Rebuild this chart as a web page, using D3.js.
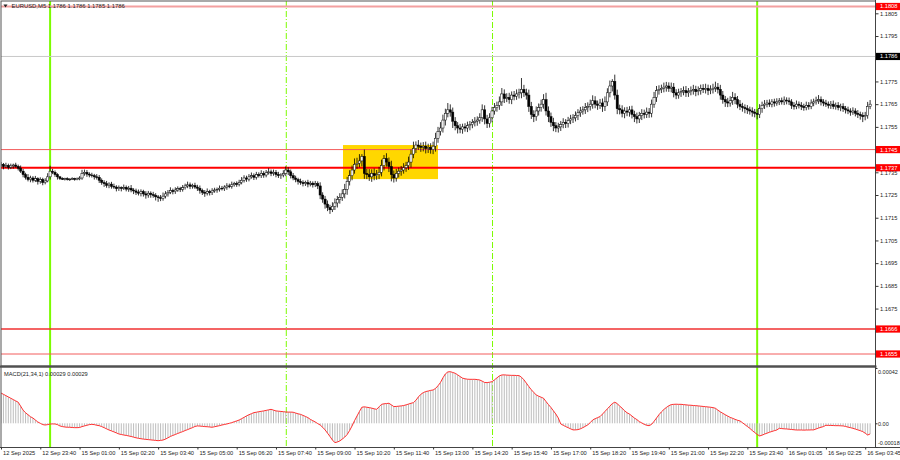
<!DOCTYPE html>
<html><head><meta charset="utf-8">
<script src="https://cdn.jsdelivr.net/npm/d3@7"></script>
<style>body{margin:0;background:#fff}svg{display:block}text{font-family:"Liberation Sans",Arial,sans-serif}</style>
</head><body><svg id="c" width="900" height="460"></svg>
<script>
const chartTitle = "EURUSD,M5  1.1786 1.1786 1.1785 1.1786";
const macdTitle = "MACD(21,34,1) 0.00029 0.00029";
const firstOpen = 1.17380;
const closes = [
1.17385,1.17375,1.17380,1.17372,1.17378,1.17382,1.17376,1.17368,
1.17355,1.17340,1.17328,1.17318,
1.17325,1.17315,1.17322,1.17310,1.17318,1.17305,1.17312,1.17330,
1.17355,
1.17350,1.17340,1.17330,
1.17322,1.17320,1.17322,1.17318,1.17320,1.17322,1.17319,1.17321,1.17325,
1.17345,1.17350,1.17342,1.17338,
1.17335,1.17330,1.17328,1.17315,
1.17305,1.17300,1.17292,1.17298,
1.17288,1.17285,1.17278,1.17282,1.17280,1.17284,1.17276,1.17280,1.17272,1.17268,
1.17262,1.17258,1.17265,1.17255,1.17250,1.17258,1.17252,
1.17248,1.17242,1.17238,1.17235,1.17245,
1.17255,1.17262,1.17270,1.17265,1.17272,1.17278,1.17275,1.17282,1.17290,
1.17295,1.17288,1.17292,1.17285,1.17280,
1.17270,1.17262,1.17258,1.17265,1.17260,1.17268,
1.17272,1.17275,1.17280,1.17278,1.17285,1.17290,1.17288,1.17295,1.17300,1.17298,1.17305,
1.17315,1.17325,1.17320,1.17330,1.17335,1.17328,1.17340,1.17335,1.17345,1.17338,
1.17348,1.17352,1.17345,1.17350,
1.17340,1.17335,1.17338,1.17345,
1.17360,1.17352,
1.17335,1.17325,1.17318,1.17310,
1.17305,1.17300,1.17305,1.17298,1.17302,1.17295,1.17300,1.17290,
1.17250,1.17232,
1.17210,1.17195,1.17185,1.17200,
1.17215,1.17230,1.17240,1.17255,1.17275,
1.17310,1.17335,1.17360,1.17385,
1.17390,1.17400,1.17420,
1.17345,
1.17340,1.17330,1.17345,1.17335,1.17340,1.17350,
1.17380,1.17410,1.17395,
1.17375,1.17340,1.17325,
1.17345,1.17355,1.17360,1.17370,1.17380,1.17395,
1.17430,1.17455,1.17470,1.17465,
1.17460,1.17465,1.17455,1.17460,1.17450,1.17465,
1.17500,1.17530,1.17545,
1.17580,1.17610,1.17625,1.17615,
1.17575,1.17555,
1.17545,1.17540,1.17550,1.17545,
1.17555,1.17560,1.17570,1.17575,1.17580,1.17590,
1.17625,
1.17585,1.17565,
1.17590,1.17620,1.17635,1.17645,1.17660,
1.17695,
1.17675,1.17680,1.17670,
1.17690,1.17685,1.17695,1.17700,
1.17715,
1.17700,1.17690,
1.17640,1.17605,1.17595,
1.17620,1.17635,1.17650,1.17670,
1.17620,1.17595,
1.17570,1.17555,1.17545,1.17550,
1.17560,1.17570,1.17565,1.17578,1.17585,1.17590,1.17600,1.17612,
1.17620,1.17625,1.17635,1.17640,1.17650,1.17665,
1.17650,1.17645,1.17655,
1.17640,1.17660,
1.17700,1.17730,1.17750,
1.17690,
1.17630,
1.17625,1.17610,1.17620,
1.17615,1.17625,1.17605,
1.17595,1.17585,1.17600,
1.17610,1.17605,1.17615,1.17610,
1.17650,1.17680,1.17710,
1.17715,1.17720,1.17725,1.17730,1.17720,1.17725,
1.17700,1.17690,
1.17700,1.17705,1.17710,1.17700,1.17705,1.17710,1.17715,1.17705,1.17710,1.17720,1.17715,1.17720,1.17710,1.17715,1.17720,1.17725,1.17715,
1.17690,1.17670,1.17660,1.17655,
1.17665,1.17680,1.17670,
1.17650,1.17640,1.17635,1.17630,
1.17625,1.17620,1.17615,1.17610,1.17605,
1.17630,1.17645,1.17650,
1.17655,1.17650,1.17660,1.17655,1.17660,1.17665,1.17660,1.17668,1.17665,1.17660,
1.17645,1.17640,1.17650,1.17645,1.17640,1.17635,1.17645,1.17640,
1.17655,1.17660,1.17665,1.17670,1.17660,1.17655,
1.17650,1.17645,1.17650,1.17640,1.17645,1.17635,1.17640,1.17630,
1.17625,1.17620,1.17615,1.17620,1.17610,1.17605,1.17600,1.17595,
1.17600,1.17640,1.17650
];
// upper / lower wick lengths, in units of WICK_UNIT (2 pips)
const WICK_UNIT = 0.0002;
const wickUp = [
0.5,0.3,0.6,0.4,0.5,0.3,0.5,0.4,0.6,0.5,0.4,0.7,0.5,0.4,0.6,0.3,0.5,0.4,0.6,0.8,
1.2,0.5,0.4,0.3,0.2,0.3,0.2,0.3,0.2,0.3,0.2,0.3,0.4,0.8,0.6,0.5,0.4,0.5,0.4,0.6,
0.5,0.4,0.5,0.6,0.4,0.5,0.6,0.4,0.5,0.3,0.6,0.4,0.5,0.7,0.4,0.5,0.6,0.5,0.4,0.6,
0.5,0.4,0.6,0.5,0.4,0.6,0.8,0.6,0.5,0.7,0.4,0.6,0.5,0.4,0.6,0.5,0.7,0.5,0.4,0.6,
0.5,0.6,0.4,0.5,0.7,0.4,0.6,0.5,0.4,0.6,0.5,0.4,0.6,0.5,0.7,0.4,0.5,0.6,0.7,0.6,
0.5,0.6,0.7,0.5,0.6,0.5,0.7,0.5,0.6,0.8,0.5,0.6,0.5,0.6,0.4,0.7,0.8,0.6,0.5,0.6,
0.5,0.4,0.6,0.5,0.4,0.6,0.5,0.4,0.6,0.5,0.8,0.6,0.7,0.8,0.6,0.9,1,0.8,0.9,1,
1.2,1,1.2,1,1.3,1.2,1.5,0.5,1.5,1,1.2,0.9,1.1,1,1.2,1.3,0.8,1.2,1,1.3,
0.9,1,0.8,0.9,1,0.8,1.2,1,1.5,0.8,1.1,0.8,0.9,1,0.8,0.9,1,1.2,1,1.3,
1.2,1,1.5,1.2,1,0.9,0.8,0.9,0.7,0.8,0.9,0.8,0.7,0.9,0.8,1,1.2,1,0.9,1,
0.9,1,0.8,1.2,1.3,1,0.9,1,0.8,0.9,1,0.9,2.5,1,0.9,1.2,1,0.9,1,0.9,
1,1.2,1.5,1,0.9,1,0.8,0.9,0.8,0.9,0.7,0.8,0.9,0.8,0.9,0.8,0.9,0.8,1,0.9,
1,1.2,1,0.8,0.9,1,1.2,1,1.2,0.5,1.5,1.2,0.9,1,0.8,0.9,0.8,0.9,0.8,0.9,
0.8,0.9,0.8,1,0.9,1,1.2,1,0.9,0.8,1,0.9,0.8,1,0.9,0.8,0.9,0.8,0.9,1,
0.8,0.9,1,0.8,0.9,0.8,0.9,1,0.8,0.9,1,1.2,0.9,1,0.9,0.8,0.9,1,1.2,0.9,
0.8,0.9,0.8,0.7,0.8,0.7,0.8,0.7,0.9,1,0.8,0.9,0.7,0.8,0.6,0.7,0.8,0.6,0.7,0.8,
0.6,0.7,0.6,0.7,0.8,0.6,0.7,0.6,0.8,0.7,0.8,0.7,0.9,1,0.7,0.6,0.7,0.6,0.7,0.8,
0.6,0.7,0.6,0.7,0.6,0.7,0.6,0.8,0.6,0.7,0.6,0.7,0.8,1,0.9
];
const wickDn = [
0.4,0.6,0.3,0.5,0.4,0.6,0.3,0.5,0.4,0.6,0.5,0.4,0.6,0.5,0.4,0.7,0.5,0.6,0.4,0.3,
0.6,0.4,0.5,0.6,0.3,0.2,0.3,0.2,0.3,0.2,0.3,0.2,0.3,0.4,0.5,0.6,0.5,0.4,0.6,0.5,
0.6,0.5,0.7,0.5,0.6,0.5,0.4,0.6,0.5,0.7,0.4,0.5,0.6,0.5,0.7,0.6,0.5,0.7,0.6,0.8,
0.6,0.7,0.5,0.8,0.9,0.6,0.5,0.5,0.6,0.4,0.6,0.5,0.4,0.6,0.5,0.4,0.5,0.6,0.5,0.4,
0.6,0.7,0.6,0.8,0.5,0.6,0.5,0.4,0.6,0.5,0.4,0.5,0.6,0.4,0.5,0.4,0.6,0.5,0.4,0.5,
0.6,0.5,0.4,0.6,0.5,0.4,0.5,0.6,0.5,0.4,0.6,0.5,0.6,0.5,0.7,0.5,0.6,0.7,0.6,0.5,
0.6,0.7,0.5,0.6,0.5,0.7,0.5,0.6,0.5,0.7,0.9,0.8,1,0.8,0.9,0.5,0.8,1,0.9,0.8,
1,1.2,0.9,1,0.8,1,0.9,1.2,1.2,1,0.9,1.1,1,0.9,1,0.9,1.1,1,1.2,1.5,
1,0.8,0.9,1,0.8,0.9,1,1.2,0.9,1,0.8,1,0.9,1.1,1,0.9,1,1.2,1,0.9,
1,1.2,0.9,1,1.5,1,1.2,0.9,1,0.8,0.9,1,0.8,0.9,1,0.8,0.9,1.2,1,0.9,
1,0.8,0.9,1,0.9,1,0.8,0.9,1,0.9,0.8,1,1.2,0.9,1,1.2,1,1.2,0.9,1,
0.9,1,1,1.2,1,1.2,0.9,1,0.9,0.8,1,0.9,0.8,0.9,0.8,1,0.9,0.8,0.9,1,
0.9,1,0.9,1,0.8,1.2,1,0.9,1,1.2,1,1.2,1,0.9,1.1,0.9,1,0.9,1.2,1,
0.9,1,0.9,0.8,1,0.9,0.8,1,0.9,0.8,0.9,1,0.8,0.9,1,0.9,0.8,0.9,0.8,0.9,
0.9,0.8,0.9,1,0.8,0.9,0.8,0.9,1,0.8,0.9,0.8,0.9,1,0.9,1.1,0.9,0.8,0.9,1,
0.9,0.8,0.9,1,0.9,0.8,1,0.9,1.1,0.8,0.9,0.8,0.7,0.6,0.7,0.8,0.6,0.7,0.6,0.7,
0.8,0.7,0.8,0.7,0.6,0.7,0.8,0.7,0.6,0.7,0.6,0.7,0.6,0.7,0.8,0.7,0.6,0.7,0.8,0.6,
0.7,0.6,0.8,0.7,0.8,0.7,0.8,0.6,0.7,0.8,0.9,1.2,0.8,0.7,0.6
];
// MACD main values, in units of 0.00001 (signal period 1 = same values)
const macdValues = [
23,22,21,20,19,18,17,16,13,10,8,6.5,5,4,2.5,1,0,-1,-1.3,-1,
-0.5,-0.5,-0.5,-1,-2,-2.5,-2.8,-3,-3,-3.2,-3.3,-3.3,-3.2,-2.5,-2,-1.5,-1,-0.8,-1,-1.5,
-1.8,-2.5,-3.3,-4.2,-5.1,-5.8,-6.5,-7.3,-8.1,-8.5,-8.9,-9.2,-9.6,-10,-10.5,-11,-11.4,-11.7,-12,-12.2,
-12.4,-12.6,-12.8,-13,-13.2,-13,-12.7,-12,-11,-10,-9.2,-8.5,-7.7,-7,-6.3,-5.5,-4.8,-4,-3.3,-2.4,
-2,-2.1,-2.3,-2.5,-2.6,-2.8,-3,-2.6,-2.2,-1.8,-1.3,-0.9,-0.5,0,0.5,1.2,1.8,2.5,3.5,4.5,
5.6,6.5,7.3,8.1,8.4,8.8,9.1,9.4,9.8,10.2,10.6,10,9.4,9.2,9,8.8,8.6,8.5,8.5,8.4,
7.8,7.2,6.8,6,5.2,4.3,3,2,1,-0.2,-1.3,-3,-5,-7.5,-10,-12.7,-14.7,-14.2,-13.4,-12,
-10.5,-8.5,-5.5,-2,2,5.5,9,12.2,12.5,12.2,11.9,11.5,11,10.6,12.5,14.4,14.8,15,15.2,14,
12.7,12.8,13,13.2,13.5,14,14.6,15.2,15.7,17.5,20,22,23.3,24.1,24.5,25,25.3,26.5,28.5,31,
34.5,37.5,39,39.2,38.6,38,36.8,35.5,34.3,33.8,33.5,33.4,33.4,33.4,33.2,32.9,32,31,30.9,31.2,
31.6,33,34.5,36,36.7,36.8,36.6,36.5,36.4,36.4,36.3,36.2,35,33,30.5,27.9,25.5,23.5,21.5,20.6,
19.8,19,16.5,14.2,12,9.5,7,4,-0.5,-1.5,-2.5,-3.3,-4.2,-5,-5,-4.8,-4.2,-3.3,-2.3,-1.2,
0.5,2.5,3.5,4.3,5.1,7,9,11,13,15,16,15,13,11.5,9.5,8,7,5.5,4,2.8,
1.3,0.3,-0.8,-1.5,-1.8,-0.8,1.5,4,6.5,8.7,10.5,12,13.3,14.2,14.4,14.5,14.4,14.4,14.2,14,
13.8,13.7,13.5,13.4,13.2,13,12.8,12.6,12.4,12.2,11.9,11.4,10,8.7,7.6,6.5,5.5,4.5,3.8,3,
2.3,1.8,0.5,-1,-2.4,-3.8,-5.5,-7,-8.4,-9.6,-9,-8.2,-7.5,-6.8,-6.2,-5.6,-5.1,-3.8,-4,-4.2,
-4.3,-4.5,-4.7,-4.9,-5.1,-5.1,-5.1,-5.2,-5.1,-5.1,-5,-5,-4.3,-3.6,-3,-2.5,-1.5,-1.6,-1.6,-1.7,
-1.8,-1.8,-1.9,-2,-2.4,-2.9,-3.3,-3.8,-4.4,-5,-5.6,-6.3,-7.5,-8.9,-8.1
];
const priceTicks = [1.1805,1.1795,1.1785,1.1775,1.1765,1.1755,1.1745,1.1735,1.1725,1.1715,1.1705,1.1695,1.1685,1.1675,1.1665,1.1655];
const levelPrices = [1.1808,1.1745,1.1737,1.1666,1.1655];
const bidPrice = 1.1786;
const macdTicks = [0.00042,0,-0.00018];
const macdTickLabels = ["0.00042","0.00","-0.00018"];
const timeLabels = ["12 Sep 2025","12 Sep 23:40","15 Sep 01:00","15 Sep 02:20","15 Sep 03:40","15 Sep 05:00","15 Sep 06:20","15 Sep 07:40","15 Sep 09:00","15 Sep 10:20","15 Sep 11:40","15 Sep 13:00","15 Sep 14:20","15 Sep 15:40","15 Sep 17:00","15 Sep 18:20","15 Sep 19:40","15 Sep 21:00","15 Sep 22:20","15 Sep 23:40","16 Sep 01:05","16 Sep 02:25","16 Sep 03:45"];
const dayStartBars = [20,308];
const sessionBars = [116,200];
const zoneBars = [139.3,178];
const zonePrices = [1.1747,1.1732];

// ---------- drawing ----------
const svg = d3.select("#c");
const FS = 5.7;
const x = d3.scaleLinear().domain([0,354]).range([1,870.1]);
const y = d3.scaleLinear().domain([1.1808,1.1655]).range([6.5,354]);
const ym = d3.scaleLinear().domain([-0.00018,0.00042]).range([447,368]);
const RIGHT = 875.5;
const fmt4 = d3.format(".4f");

svg.append("rect").attr("width",900).attr("height",460).attr("fill","#fff");
const defs = svg.append("defs");
defs.append("clipPath").attr("id","mc").append("rect").attr("x",1).attr("y",1).attr("width",RIGHT-1).attr("height",365);
defs.append("clipPath").attr("id","ic").append("rect").attr("x",1).attr("y",367).attr("width",RIGHT-1).attr("height",80);

const main = svg.append("g").attr("clip-path","url(#mc)");
const ind = svg.append("g").attr("clip-path","url(#ic)");

// zone rectangle
main.append("rect")
  .attr("x",x(zoneBars[0])).attr("width",x(zoneBars[1])-x(zoneBars[0]))
  .attr("y",y(zonePrices[0])).attr("height",y(zonePrices[1])-y(zonePrices[0]))
  .attr("fill","#ffd700");

// vertical lines in both panels
[main, ind].forEach(g=>{
  dayStartBars.forEach(b=>g.append("line").attr("x1",x(b)).attr("x2",x(b)).attr("y1",0).attr("y2",460)
    .attr("stroke","#7cfc00").attr("stroke-width",2));
  sessionBars.forEach(b=>g.append("line").attr("x1",x(b)+0.5).attr("x2",x(b)+0.5).attr("y1",0).attr("y2",460)
    .attr("stroke","#7cfc00").attr("stroke-width",1).attr("stroke-dasharray","6,2,1,2"));
});

// horizontal levels
const levelStyle = [
  {c:"#f3a0a0",w:2},{c:"#f25c5c",w:1},{c:"#ff0000",w:2},{c:"#f03030",w:1.6},{c:"#f25c5c",w:1}
];
main.append("line").attr("x1",0).attr("x2",RIGHT).attr("y1",y(bidPrice)).attr("y2",y(bidPrice))
  .attr("stroke","#c8c8c8").attr("stroke-width",1);
levelPrices.forEach((p,i)=>{
  main.append("line").attr("x1",0).attr("x2",RIGHT).attr("y1",y(p)).attr("y2",y(p))
    .attr("stroke",levelStyle[i].c).attr("stroke-width",levelStyle[i].w);
});

// candles
const bars = closes.map((c,i)=>{
  const o = i===0 ? firstOpen : closes[i-1];
  return {i,o,c,h:Math.max(o,c)+wickUp[i]*WICK_UNIT,l:Math.min(o,c)-wickDn[i]*WICK_UNIT};
});
const cg = main.append("g");
cg.selectAll("line.w").data(bars).join("line").attr("class","w")
  .attr("x1",d=>x(d.i)).attr("x2",d=>x(d.i)).attr("y1",d=>y(d.h)).attr("y2",d=>y(d.l))
  .attr("stroke","#000").attr("stroke-width",0.8);
cg.selectAll("rect.b").data(bars).join("rect").attr("class","b")
  .attr("x",d=>x(d.i)-1.1).attr("width",2.2)
  .attr("y",d=>y(Math.max(d.o,d.c)))
  .attr("height",d=>Math.max(0.7,Math.abs(y(d.o)-y(d.c))))
  .attr("fill",d=>d.c>=d.o?"#fff":"#000")
  .attr("stroke","#000").attr("stroke-width",0.5);

// MACD histogram + signal
ind.selectAll("line.h").data(macdValues).join("line").attr("class","h")
  .attr("x1",(d,i)=>x(i)).attr("x2",(d,i)=>x(i))
  .attr("y1",ym(0)).attr("y2",d=>ym(d*1e-5))
  .attr("stroke","#bdbdbd").attr("stroke-width",1);
ind.append("path").datum(macdValues)
  .attr("d",d3.line().x((d,i)=>x(i)).y(d=>ym(d*1e-5)))
  .attr("fill","none").attr("stroke","#ff3030").attr("stroke-width",1);

// frames
svg.append("rect").attr("x",1).attr("y",1).attr("width",RIGHT-1).attr("height",365)
  .attr("fill","none").attr("stroke","#555").attr("stroke-width",1);
svg.append("line").attr("x1",0).attr("x2",RIGHT+1).attr("y1",366.7).attr("y2",366.7).attr("stroke","#505050").attr("stroke-width",2.2);
svg.append("line").attr("x1",1).attr("x2",1).attr("y1",367).attr("y2",447.5).attr("stroke","#555");
svg.append("line").attr("x1",0).attr("x2",900).attr("y1",447.5).attr("y2",447.5).attr("stroke","#444").attr("stroke-width",1);
svg.append("line").attr("x1",RIGHT).attr("x2",RIGHT).attr("y1",0).attr("y2",448).attr("stroke","#444").attr("stroke-width",1);

// price axis (labels hidden under a level tag are omitted, as in the terminal)
const covered = [bidPrice, ...levelPrices];
const gy = svg.append("g").attr("transform",`translate(${RIGHT},0)`)
  .call(d3.axisRight(y).tickValues(priceTicks).tickSize(3).tickPadding(1.5)
    .tickFormat(d=>covered.some(p=>Math.abs(y(p)-y(d))<3)?"":fmt4(d)));
gy.select(".domain").remove();
gy.selectAll("line").attr("stroke","#333");
gy.selectAll("text").attr("font-size",FS).attr("fill","#222").attr("font-family","Liberation Sans, Arial, sans-serif");

// level tags
function tag(p, bg){
  const g = svg.append("g");
  g.append("rect").attr("x",RIGHT+0.5).attr("y",y(p)-3.6).attr("width",900-RIGHT).attr("height",7.2).attr("fill",bg);
  g.append("text").attr("x",RIGHT+4.5).attr("y",y(p)).attr("dy","0.34em").attr("font-size",FS)
    .attr("fill","#fff").text(fmt4(p));
}
tag(bidPrice,"#000");
levelPrices.forEach(p=>tag(p,"#ff0000"));

// MACD axis
const gm = svg.append("g").attr("transform",`translate(${RIGHT},0)`)
  .call(d3.axisRight(ym).tickValues(macdTicks).tickSize(2).tickPadding(0.5).tickFormat((d,i)=>macdTickLabels[i]));
gm.select(".domain").remove();
gm.selectAll("line").attr("stroke","#333");
gm.selectAll("text").attr("font-size",5.5).attr("fill","#222").attr("font-family","Liberation Sans, Arial, sans-serif")
  .attr("dy",(d,i)=>i===0?"1.0em":(i===2?"-0.45em":"0.32em"));

// time axis
const gx = svg.append("g").attr("transform","translate(0,447.5)")
  .call(d3.axisBottom(x).tickValues(timeLabels.map((d,i)=>i*16)).tickSize(2).tickPadding(1).tickFormat((d,i)=>timeLabels[i]));
gx.select(".domain").remove();
gx.selectAll("line").attr("stroke","#333");
gx.selectAll("text").attr("font-size",FS).attr("fill","#222").attr("text-anchor","start").attr("x",1.5)
  .attr("font-family","Liberation Sans, Arial, sans-serif");

// titles
svg.append("path").attr("d","M3.5,4.6 L7.5,4.6 L5.5,7.4 Z").attr("fill","#222");
svg.append("text").attr("x",11.5).attr("y",8.3).attr("font-size",5.9).attr("fill","#222").text(chartTitle);
svg.append("text").attr("x",4).attr("y",375.5).attr("font-size",FS).attr("fill","#222").text(macdTitle);
</script></body></html>
